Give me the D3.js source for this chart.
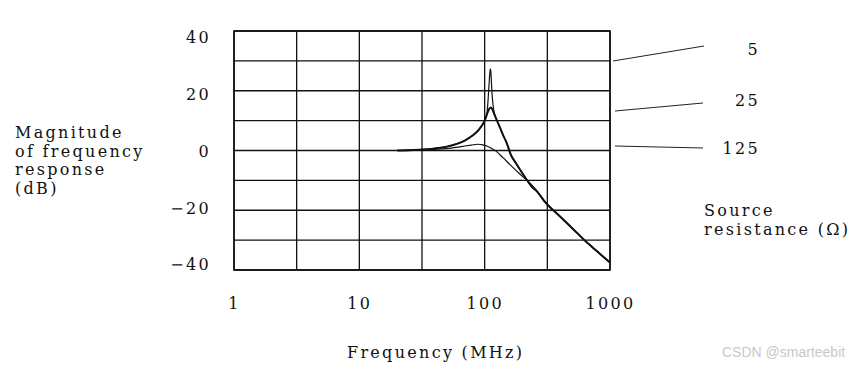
<!DOCTYPE html>
<html>
<head>
<meta charset="utf-8">
<script src="https://cdn.jsdelivr.net/npm/d3@7"></script>
<style>
body { margin: 0; background: #fff; }
svg { display: block; }
.lbl { font-family: "DejaVu Serif", serif; font-size: 16px; letter-spacing: 2.3px; fill: #111; }
</style>
</head>
<body>
<svg id="chart" width="866" height="374"></svg>
<script>
/* --- data --- */
// frequency in MHz, magnitude in dB
var freq5   = [20, 25, 31.6, 40, 50, 60, 70, 80, 90, 100, 104, 106.5, 108.5, 110, 111, 112, 113.2, 114.5, 116.5, 119, 122, 130, 140, 150, 162, 175, 190, 205, 220, 240, 260, 300, 340, 371, 450, 540, 640, 800, 1000];
var db5     = [0, 0.1, 0.3, 0.7, 1.3, 2.2, 3.4, 5.0, 7.0, 10, 12, 17, 22.5, 26, 27.3, 26.5, 23, 19, 15.5, 12.8, 11.2, 8.5, 5.2, 2.5, -1.5, -3.8, -6.2, -8.3, -10.2, -12.3, -13.6, -17, -19.4, -20.8, -24.2, -27.4, -30.4, -34, -37.5];

var freq25  = [20, 25, 31.6, 40, 50, 60, 70, 80, 90, 100, 105, 109, 112, 115, 119, 124, 130, 140, 150, 162, 175, 190, 205, 220, 240, 260, 300, 340, 371, 450, 540, 640, 800, 1000];
var db25    = [0, 0.1, 0.3, 0.7, 1.3, 2.2, 3.4, 5.0, 7.0, 10, 12.5, 14, 14.4, 13.8, 12.3, 10.5, 8.5, 5.2, 2.5, -1.5, -3.8, -6.2, -8.3, -10.2, -12.3, -13.6, -17, -19.4, -20.8, -24.2, -27.4, -30.4, -34, -37.5];

var freq125 = [20, 31.6, 40, 54, 65, 78, 88, 97, 105, 115, 124, 140, 160, 190, 228, 260, 316, 371, 450, 540, 640, 800, 1000];
var db125   = [0, 0.2, 0.4, 0.8, 1.3, 1.8, 2.1, 1.9, 1.4, 0.6, -0.3, -2.4, -4.8, -7.8, -10.8, -13.4, -18, -20.8, -24.2, -27.4, -30.4, -34, -37.5];

var resistances = ["5", "25", "125"];
var xTicks = [1, 10, 100, 1000];
var xGrid  = [1, 3.162, 10, 31.62, 100, 316.2, 1000];
var yTicks = [-40, -20, 0, 20, 40];
var yGrid  = [-40, -30, -20, -10, 0, 10, 20, 30, 40];
var yTitle = ["Magnitude", "of frequency", "response", "(dB)"];
var xTitle = "Frequency (MHz)";
var legendTitle = ["Source", "resistance (\u03A9)"];

/* --- layout --- */
var pLeft = 234, pRight = 610, pTop = 31, pBottom = 270;
var svg = d3.select("#chart");

var x = d3.scaleLog().domain([1, 1000]).range([pLeft, pRight]);
var y = d3.scaleLinear().domain([-40, 40]).range([pBottom, pTop]);
// the printed y labels sit a little inside the grid ends
var yLab = d3.scaleLinear().domain([-40, 40]).range([264, 37]);

// grid
var grid = svg.append("g").attr("stroke", "#111").attr("stroke-width", 1.3);
grid.selectAll("line.v").data(xGrid).join("line").attr("class", "v")
    .attr("x1", d => x(d)).attr("x2", d => x(d))
    .attr("y1", pTop).attr("y2", pBottom);
grid.selectAll("line.h").data(yGrid).join("line").attr("class", "h")
    .attr("x1", pLeft).attr("x2", pRight)
    .attr("y1", d => y(d)).attr("y2", d => y(d));
svg.append("rect").attr("x", pLeft).attr("y", pTop)
    .attr("width", pRight - pLeft).attr("height", pBottom - pTop)
    .attr("fill", "none").attr("stroke", "#111").attr("stroke-width", 1.6);

// tick labels (d3 axes, tick lines hidden)
var xAxis = svg.append("g").attr("transform", "translate(0,309)")
    .call(d3.axisBottom(x).tickValues(xTicks).tickFormat(d3.format("d")).tickSize(0));
xAxis.select(".domain").remove();
xAxis.attr("font-family", null).attr("font-size", null);
xAxis.selectAll("text").attr("class", "lbl").attr("dy", 0).attr("y", 0);

var yAxis = svg.append("g").attr("transform", "translate(211,0)")
    .call(d3.axisLeft(yLab).tickValues(yTicks).tickFormat(d => d < 0 ? "\u2212" + (-d) : d).tickSize(0));
yAxis.select(".domain").remove();
yAxis.attr("font-family", null).attr("font-size", null);
yAxis.selectAll("text").attr("class", "lbl").attr("x", 0).attr("dy", "0.36em");

// curves
var line = d3.line().x(d => x(d[0])).y(d => y(d[1])).curve(d3.curveMonotoneX);
var series = [
    {f: freq125, v: db125, w: 1.2},
    {f: freq25, v: db25, w: 2.0},
    {f: freq5, v: db5, w: 1.2}
];
svg.append("g").selectAll("path").data(series).join("path")
    .attr("d", s => line(d3.zip(s.f, s.v)))
    .attr("fill", "none").attr("stroke", "#111")
    .attr("stroke-width", s => s.w).attr("stroke-linejoin", "round");

// source resistance legend with leader lines
var leaders = [[613, 61, 704, 46, 55], [615, 111, 703, 103, 106], [615, 146, 703, 148, 154]];
svg.append("g").selectAll("line").data(leaders).join("line")
    .attr("x1", d => d[0]).attr("y1", d => d[1]).attr("x2", d => d[2]).attr("y2", d => d[3])
    .attr("stroke", "#222").attr("stroke-width", 1);
svg.append("g").selectAll("text").data(resistances).join("text")
    .attr("class", "lbl").attr("text-anchor", "end")
    .attr("x", 760).attr("y", (d, i) => leaders[i][4]).text(d => d);

svg.append("g").selectAll("text").data(legendTitle).join("text")
    .attr("class", "lbl").attr("x", 704).attr("y", (d, i) => 216 + i * 19).text(d => d);

// axis titles
svg.append("g").selectAll("text").data(yTitle).join("text")
    .attr("class", "lbl").attr("x", 15).attr("y", (d, i) => 138 + i * 18.5).text(d => d);
svg.append("text").attr("class", "lbl").attr("x", 347).attr("y", 358).text(xTitle);

// watermark
svg.append("text").attr("x", 722).attr("y", 357)
    .attr("font-family", "Liberation Sans, Arial, sans-serif").attr("font-size", 14)
    .attr("fill", "#c8c8c8").text("CSDN @smarteebit");
</script>
</body>
</html>
